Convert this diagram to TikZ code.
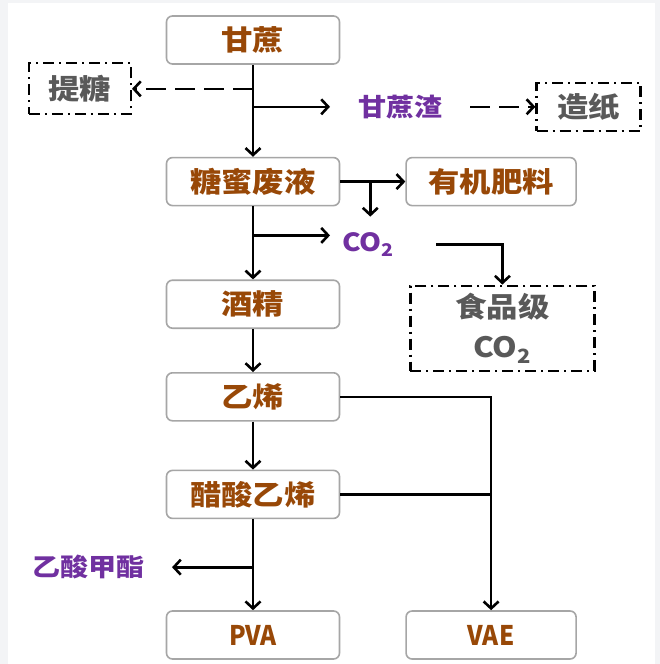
\documentclass[tikz,border=0pt]{standalone}
\usepackage{fontspec}
\newfontfamily\cjk{Noto Sans CJK SC}[FakeStretch=1.12]
\newfontfamily\cjklatin{Noto Sans CJK SC}[FakeStretch=0.9]
\usetikzlibrary{arrows.meta, positioning, calc}

\definecolor{boxtext}{HTML}{984807}
\definecolor{sidetext}{HTML}{7030A0}
\definecolor{outtext}{HTML}{595959}
\definecolor{boxline}{HTML}{A6A6A6}
\definecolor{pageedge}{HTML}{F3F4F6}

\begin{document}
\begin{tikzpicture}[
  box/.style = {draw=boxline, line width=1.6pt, rounded corners=6pt, minimum width=173pt, minimum height=48pt, inner sep=2pt, text=boxtext, font=\cjk\bfseries\fontsize{28}{34}\selectfont},
  latinbox/.style = {box, font=\cjklatin\bfseries\fontsize{27}{34}\selectfont},
  outbox/.style = {draw=black, line width=2.2pt, dash pattern=on 11pt off 5pt on 2pt off 5pt, inner sep=2pt, align=center, text=outtext, font=\cjk\bfseries\fontsize{28}{40}\selectfont},
  side/.style = {inner sep=0pt, text=sidetext, font=\cjk\bfseries\fontsize{25}{30}\selectfont},
  line/.style = {line width=2.6pt},
  arrow/.style = {line width=2.6pt, -{Straight Barb[length=7pt,width=15pt]}},
  dasharrow/.style = {arrow, dash pattern=on 20pt off 9pt}
]

  % ======================================================
  % page
  % ======================================================
  \fill[pageedge] (-253pt,40pt) rectangle (407pt,-624pt);
  \fill[white] (-245pt,37pt) rectangle (402pt,-624pt);
  \useasboundingbox (-253pt,40pt) rectangle (407pt,-624pt);

  % ======================================================
  % main chain
  % ======================================================
  \node[box] (cane) at (0,0) {甘蔗};
  \node[box, below=92pt of cane] (molasses) {糖蜜废液};
  \node[box, below=73pt of molasses] (alcohol) {酒精};
  \node[box, below=43pt of alcohol] (ethylene) {乙烯};
  \node[box, below=48pt of ethylene] (vinylacetate) {醋酸乙烯};
  \node[latinbox, below=91pt of vinylacetate] (pva) {PVA};

  % right column
  \node[box, minimum width=170pt, right=65pt of molasses] (fertilizer) {有机肥料};
  \node[latinbox, minimum width=170pt] (vae) at (pva -| fertilizer) {VAE};

  % ======================================================
  % sugarcane branches
  % ======================================================
  \coordinate[below=24pt of cane.south] (caneSplitA);
  \coordinate[below=42pt of cane.south] (caneSplitB);
  \node[outbox, minimum width=102pt, minimum height=51pt, left=121pt of caneSplitA] (sugar) {提糖};
  \coordinate[right=77pt of caneSplitB] (bagasseIn);
  \node[side, right=28pt of bagasseIn] (bagasse) {甘蔗渣};
  \coordinate[right=28pt of bagasse.east] (bagasseOut);
  \node[outbox, minimum width=104pt, minimum height=48pt, right=65pt of bagasseOut] (paper) {造纸};

  \draw[arrow] (cane) -- (molasses);
  \draw[dasharrow] (caneSplitA) -- (sugar);
  \draw[arrow] (caneSplitB) -- (bagasseIn);
  \draw[dasharrow] (bagasseOut) -- (paper);

  % ======================================================
  % molasses branches
  % ======================================================
  \coordinate[right=30pt of molasses.east] (molSplit);
  \coordinate[below=35pt of molSplit] (molDown);
  \draw[arrow] (molasses) -- (fertilizer);
  \draw[arrow] (molSplit) -- (molDown);

  \coordinate[below=29pt of molasses.south] (co2Split);
  \coordinate[right=77pt of co2Split] (co2In);
  \node[side, right=12pt of co2In, yshift=-9pt] (co2) {CO\textsubscript{2}};
  \coordinate[right=42pt of co2.east] (co2Out);
  \node[outbox, minimum width=184pt, minimum height=85pt, right=69pt of alcohol, yshift=-24pt] (foodco2) {食品级\\CO\textsubscript{2}};

  \draw[arrow] (co2Split) -- (co2In);
  \draw[arrow] (co2Out) -| (foodco2.north);

  % ======================================================
  % lower chain
  % ======================================================
  \draw[arrow] (molasses) -- (alcohol);
  \draw[arrow] (alcohol) -- (ethylene);
  \draw[arrow] (ethylene) -- (vinylacetate);
  \draw[arrow] (vinylacetate) -- (pva);

  % ethylene / vinyl acetate -> VAE
  \draw[arrow] (ethylene.east) -| (vae.north);
  \draw[line] (vinylacetate.east) -- (vinylacetate.east -| vae.north);

  % methyl acetate side product
  \coordinate[below=48pt of vinylacetate.south] (vaSplit);
  \coordinate[left=81pt of vaSplit] (vaOut);
  \node[side, left=27pt of vaOut] (acetate) {乙酸甲酯};
  \draw[arrow] (vaSplit) -- (vaOut);

\end{tikzpicture}
\end{document}
